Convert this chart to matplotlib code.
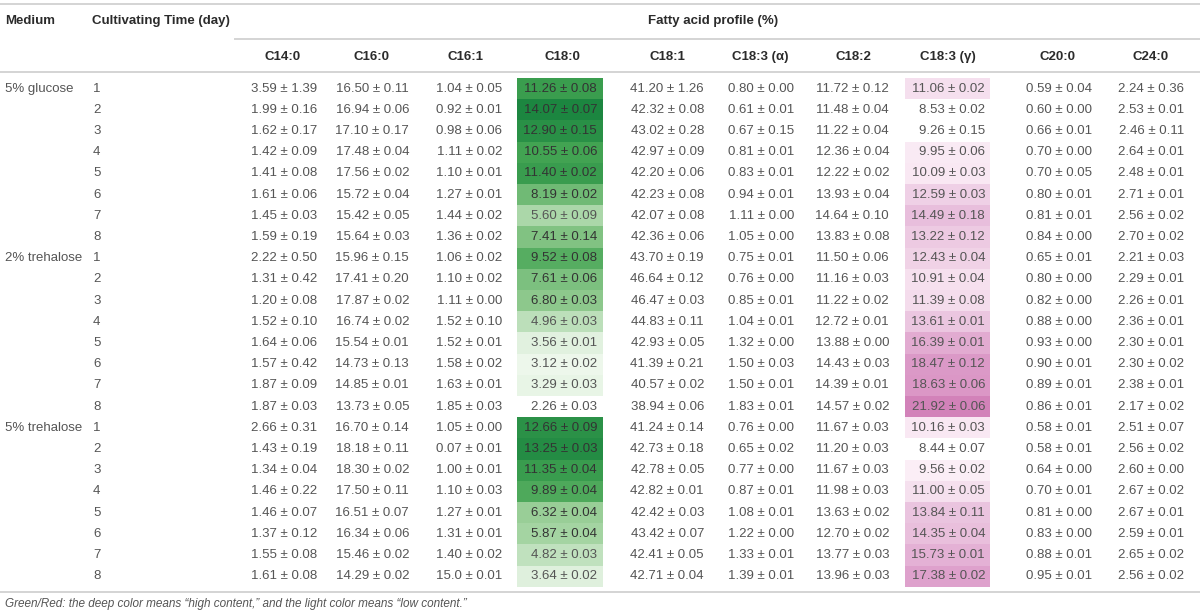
import numpy as np
import matplotlib.pyplot as plt
from matplotlib.colors import LinearSegmentedColormap, Normalize

plt.rcParams['font.family'] = ['Liberation Sans', 'DejaVu Sans']

media = ["5% glucose", "2% trehalose", "5% trehalose"]
days = [1, 2, 3, 4, 5, 6, 7, 8]

headers = ["C14:0", "C16:0", "C16:1", "C18:0", "C18:1",
           "C18:3 (α)", "C18:2", "C18:3 (γ)", "C20:0", "C24:0"]

c14_0 = ["3.59 ± 1.39", "1.99 ± 0.16", "1.62 ± 0.17", "1.42 ± 0.09", "1.41 ± 0.08", "1.61 ± 0.06",
         "1.45 ± 0.03", "1.59 ± 0.19", "2.22 ± 0.50", "1.31 ± 0.42", "1.20 ± 0.08", "1.52 ± 0.10",
         "1.64 ± 0.06", "1.57 ± 0.42", "1.87 ± 0.09", "1.87 ± 0.03", "2.66 ± 0.31", "1.43 ± 0.19",
         "1.34 ± 0.04", "1.46 ± 0.22", "1.46 ± 0.07", "1.37 ± 0.12", "1.55 ± 0.08", "1.61 ± 0.08"]
c16_0 = ["16.50 ± 0.11", "16.94 ± 0.06", "17.10 ± 0.17", "17.48 ± 0.04", "17.56 ± 0.02", "15.72 ± 0.04",
         "15.42 ± 0.05", "15.64 ± 0.03", "15.96 ± 0.15", "17.41 ± 0.20", "17.87 ± 0.02", "16.74 ± 0.02",
         "15.54 ± 0.01", "14.73 ± 0.13", "14.85 ± 0.01", "13.73 ± 0.05", "16.70 ± 0.14", "18.18 ± 0.11",
         "18.30 ± 0.02", "17.50 ± 0.11", "16.51 ± 0.07", "16.34 ± 0.06", "15.46 ± 0.02", "14.29 ± 0.02"]
c16_1 = ["1.04 ± 0.05", "0.92 ± 0.01", "0.98 ± 0.06", "1.11 ± 0.02", "1.10 ± 0.01", "1.27 ± 0.01",
         "1.44 ± 0.02", "1.36 ± 0.02", "1.06 ± 0.02", "1.10 ± 0.02", "1.11 ± 0.00", "1.52 ± 0.10",
         "1.52 ± 0.01", "1.58 ± 0.02", "1.63 ± 0.01", "1.85 ± 0.03", "1.05 ± 0.00", "0.07 ± 0.01",
         "1.00 ± 0.01", "1.10 ± 0.03", "1.27 ± 0.01", "1.31 ± 0.01", "1.40 ± 0.02", "15.0 ± 0.01"]
c18_0 = ["11.26 ± 0.08", "14.07 ± 0.07", "12.90 ± 0.15", "10.55 ± 0.06", "11.40 ± 0.02", "8.19 ± 0.02",
         "5.60 ± 0.09", "7.41 ± 0.14", "9.52 ± 0.08", "7.61 ± 0.06", "6.80 ± 0.03", "4.96 ± 0.03",
         "3.56 ± 0.01", "3.12 ± 0.02", "3.29 ± 0.03", "2.26 ± 0.03", "12.66 ± 0.09", "13.25 ± 0.03",
         "11.35 ± 0.04", "9.89 ± 0.04", "6.32 ± 0.04", "5.87 ± 0.04", "4.82 ± 0.03", "3.64 ± 0.02"]
c18_1 = ["41.20 ± 1.26", "42.32 ± 0.08", "43.02 ± 0.28", "42.97 ± 0.09", "42.20 ± 0.06", "42.23 ± 0.08",
         "42.07 ± 0.08", "42.36 ± 0.06", "43.70 ± 0.19", "46.64 ± 0.12", "46.47 ± 0.03", "44.83 ± 0.11",
         "42.93 ± 0.05", "41.39 ± 0.21", "40.57 ± 0.02", "38.94 ± 0.06", "41.24 ± 0.14", "42.73 ± 0.18",
         "42.78 ± 0.05", "42.82 ± 0.01", "42.42 ± 0.03", "43.42 ± 0.07", "42.41 ± 0.05", "42.71 ± 0.04"]
c18_3a = ["0.80 ± 0.00", "0.61 ± 0.01", "0.67 ± 0.15", "0.81 ± 0.01", "0.83 ± 0.01", "0.94 ± 0.01",
          "1.11 ± 0.00", "1.05 ± 0.00", "0.75 ± 0.01", "0.76 ± 0.00", "0.85 ± 0.01", "1.04 ± 0.01",
          "1.32 ± 0.00", "1.50 ± 0.03", "1.50 ± 0.01", "1.83 ± 0.01", "0.76 ± 0.00", "0.65 ± 0.02",
          "0.77 ± 0.00", "0.87 ± 0.01", "1.08 ± 0.01", "1.22 ± 0.00", "1.33 ± 0.01", "1.39 ± 0.01"]
c18_2 = ["11.72 ± 0.12", "11.48 ± 0.04", "11.22 ± 0.04", "12.36 ± 0.04", "12.22 ± 0.02", "13.93 ± 0.04",
         "14.64 ± 0.10", "13.83 ± 0.08", "11.50 ± 0.06", "11.16 ± 0.03", "11.22 ± 0.02", "12.72 ± 0.01",
         "13.88 ± 0.00", "14.43 ± 0.03", "14.39 ± 0.01", "14.57 ± 0.02", "11.67 ± 0.03", "11.20 ± 0.03",
         "11.67 ± 0.03", "11.98 ± 0.03", "13.63 ± 0.02", "12.70 ± 0.02", "13.77 ± 0.03", "13.96 ± 0.03"]
c18_3g = ["11.06 ± 0.02", "8.53 ± 0.02", "9.26 ± 0.15", "9.95 ± 0.06", "10.09 ± 0.03", "12.59 ± 0.03",
          "14.49 ± 0.18", "13.22 ± 0.12", "12.43 ± 0.04", "10.91 ± 0.04", "11.39 ± 0.08", "13.61 ± 0.01",
          "16.39 ± 0.01", "18.47 ± 0.12", "18.63 ± 0.06", "21.92 ± 0.06", "10.16 ± 0.03", "8.44 ± 0.07",
          "9.56 ± 0.02", "11.00 ± 0.05", "13.84 ± 0.11", "14.35 ± 0.04", "15.73 ± 0.01", "17.38 ± 0.02"]
c20_0 = ["0.59 ± 0.04", "0.60 ± 0.00", "0.66 ± 0.01", "0.70 ± 0.00", "0.70 ± 0.05", "0.80 ± 0.01",
         "0.81 ± 0.01", "0.84 ± 0.00", "0.65 ± 0.01", "0.80 ± 0.00", "0.82 ± 0.00", "0.88 ± 0.00",
         "0.93 ± 0.00", "0.90 ± 0.01", "0.89 ± 0.01", "0.86 ± 0.01", "0.58 ± 0.01", "0.58 ± 0.01",
         "0.64 ± 0.00", "0.70 ± 0.01", "0.81 ± 0.00", "0.83 ± 0.00", "0.88 ± 0.01", "0.95 ± 0.01"]
c24_0 = ["2.24 ± 0.36", "2.53 ± 0.01", "2.46 ± 0.11", "2.64 ± 0.01", "2.48 ± 0.01", "2.71 ± 0.01",
         "2.56 ± 0.02", "2.70 ± 0.02", "2.21 ± 0.03", "2.29 ± 0.01", "2.26 ± 0.01", "2.36 ± 0.01",
         "2.30 ± 0.01", "2.30 ± 0.02", "2.38 ± 0.01", "2.17 ± 0.02", "2.51 ± 0.07", "2.56 ± 0.02",
         "2.60 ± 0.00", "2.67 ± 0.02", "2.67 ± 0.01", "2.59 ± 0.01", "2.65 ± 0.02", "2.56 ± 0.02"]

columns = [c14_0, c16_0, c16_1, c18_0, c18_1, c18_3a, c18_2, c18_3g, c20_0, c24_0]

footnote = "Green/Red: the deep color means \u201chigh content,\u201d and the light color means \u201clow content.\u201d"

# layout (pixel units of the 1200x615 figure)
W, H = 1200, 615
col_right = [317, 409, 502, 597, 704, 794, 889, 985, 1092, 1184]
col_head = [283, 372, 465, 562, 667, 760, 853, 948, 1058, 1151]
row0, row_h = 88.6, 21.2
val_color = "#555555"
dark_text = "#333333"
head_color = "#2b2b2b"
line_color = "#d4d4d4"

greens = LinearSegmentedColormap.from_list("g", ["#eff8ed", "#8fc98d", "#44a453", "#1c8640"])
pinks = LinearSegmentedColormap.from_list("p", ["#fbeef6", "#ebc6e0", "#dd9dca", "#d282b9"])
# column index -> (cmap, norm, lowest shaded value, cell left, cell right, darken text)
shaded = {3: (greens, Normalize(3.0, 14.07), 3.0, 517, 603, True),
          7: (pinks, Normalize(9.5, 21.92), 9.5, 905, 990, False)}

fig = plt.figure(figsize=(12, 6.15), dpi=100)
ax = fig.add_axes([0, 0, 1, 1])
ax.set_xlim(0, W)
ax.set_ylim(H, 0)
ax.axis("off")

# rules
ax.plot([0, W], [4, 4], color=line_color, lw=1.4)
ax.plot([235, W], [38.5, 38.5], color=line_color, lw=1.4)
ax.plot([0, W], [72, 72], color=line_color, lw=1.4)
ax.plot([0, W], [592, 592], color=line_color, lw=1.4)

fs = 9.5
ax.text(5, 21, "Medium", fontsize=fs, fontweight="bold", color=head_color, va="center")
ax.text(92, 21, "Cultivating Time (day)", fontsize=fs, fontweight="bold", color=head_color, va="center")
ax.text(713, 21, "Fatty acid profile (%)", fontsize=fs, fontweight="bold", color=head_color,
        va="center", ha="center")
for x, h in zip(col_head, headers):
    ax.text(x, 57, h, fontsize=fs, fontweight="bold", color=head_color, va="center", ha="center")

n = len(media) * len(days)
for i in range(n):
    y = row0 + i * row_h
    if i % len(days) == 0:
        ax.text(5, y, media[i // len(days)], fontsize=fs, color=val_color, va="center")
    ax.text(93, y, str(days[i % len(days)]), fontsize=fs, color=val_color, va="center")
    for j, col in enumerate(columns):
        txt = col[i]
        tc = val_color
        if j in shaded:
            cmap, norm, lo, x0, x1, darken = shaded[j]
            v = float(txt.split("±")[0])
            if v >= lo:
                ax.add_patch(plt.Rectangle((x0, y - row_h / 2), x1 - x0, row_h,
                                           facecolor=cmap(norm(v)), edgecolor="none", zorder=0))
                if darken and norm(v) > 0.25:
                    tc = dark_text
        ax.text(col_right[j], y, txt, fontsize=fs, color=tc, va="center", ha="right")

ax.text(5, 604, footnote, fontsize=8.5, style="italic", color=val_color, va="center")

fig.savefig("out.png", dpi=100)
